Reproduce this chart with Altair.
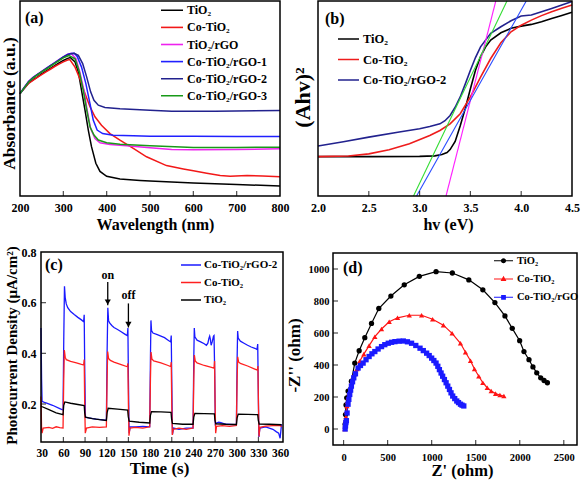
import altair as alt
import pandas as pd

FONT = "Liberation Serif"
W, H = 584, 482

# ---------------- (a) UV-vis absorbance ----------------
a_names = ["TiO₂", "Co-TiO₂", "TiO₂/rGO", "Co-TiO₂/rGO-1", "Co-TiO₂/rGO-2", "Co-TiO₂/rGO-3"]
a_colors = ["#000000", "#f21818", "#ee22ee", "#2020ff", "#22228e", "#189a18"]
a_xlim, a_ylim = [200, 800], [0, 100]

rise_wl = [200, 210, 220, 230, 240, 250, 260, 270, 280, 290, 300, 310]

wl_tio2 = rise_wl + [316, 327, 334.6, 342, 350, 357.6, 365, 375, 384.6, 400, 430.7, 477, 500, 600, 700, 800]
ab_tio2 = [52.5, 55.3, 58.0, 59.6, 61.0, 62.6, 64.0, 65.4, 66.8, 68.2, 69.5, 70.6,
           71.0, 68.7, 63.6, 54.2, 44.0, 33.8, 25.3, 16.8, 12.6, 10.1, 8.7, 8.0, 7.7, 6.7, 5.9, 5.1]

wl_co = rise_wl + [315, 327, 338, 350, 361.5, 373, 388, 407.6, 430.7, 461.5, 492, 538, 577, 600, 631, 662, 685, 724, 760, 800]
ab_co = [52.5, 55.2, 57.8, 59.3, 60.8, 62.2, 63.6, 65.0, 66.4, 67.6, 68.8, 69.7,
         70.0, 66.1, 60.2, 52.6, 45.8, 40.6, 36.3, 32.0, 28.6, 24.4, 20.1, 15.6, 13.9, 13.0, 11.7, 10.5, 10.1, 10.5, 10.3, 9.9]

wl_rgo = rise_wl + [318, 329, 338, 347.6, 355, 363, 373, 384.6, 407.6, 446, 500, 550, 600, 700, 800]
ab_rgo = [52.5, 55.8, 58.8, 60.8, 62.4, 63.9, 65.4, 66.9, 68.4, 69.9, 71.4, 72.7,
          73.2, 70.4, 63.6, 54.2, 44.0, 34.6, 29.5, 27.3, 26.4, 25.8, 24.7, 23.8, 23.7, 23.8, 24.2]

wl_rgo1 = rise_wl + [318, 325, 332, 342, 352, 361.5, 369, 378, 390.7, 415, 461.5, 500, 600, 700, 800]
ab_rgo1 = [52.5, 55.7, 58.7, 60.7, 62.3, 63.8, 65.3, 66.8, 68.3, 69.8, 71.3, 72.6,
           73.1, 73.2, 71.6, 66.1, 57.6, 47.4, 38.9, 33.8, 32.0, 31.2, 30.9, 30.7, 30.6, 30.5, 30.5]

wl_rgo2 = rise_wl + [318, 325, 334.6, 344.6, 353.8, 363, 370.7, 380.7, 396, 430.7, 500, 550, 650, 800]
ab_rgo2 = [52.5, 55.6, 58.6, 60.6, 62.2, 63.7, 65.2, 66.7, 68.2, 69.7, 71.2, 72.5,
           73.0, 73.2, 72.1, 67.9, 61.1, 53.4, 49.1, 46.6, 45.4, 44.7, 44.0, 43.4, 43.4, 43.9]

wl_rgo3 = rise_wl + [313, 327, 337, 346, 354, 361.5, 370.7, 380.7, 400, 430.7, 500, 600, 700, 800]
ab_rgo3 = [52.5, 55.6, 58.5, 60.5, 62.1, 63.6, 65.0, 66.5, 68.0, 69.4, 70.8, 71.8,
           72.0, 70.4, 63.6, 54.2, 44.0, 35.5, 31.3, 28.7, 27.3, 26.6, 25.8, 24.9, 24.9, 25.0]

a_series = [(a_names[0], wl_tio2, ab_tio2), (a_names[1], wl_co, ab_co), (a_names[2], wl_rgo, ab_rgo),
            (a_names[3], wl_rgo1, ab_rgo1), (a_names[4], wl_rgo2, ab_rgo2), (a_names[5], wl_rgo3, ab_rgo3)]

# ---------------- (b) Tauc plot ----------------
b_names = ["TiO₂", "Co-TiO₂", "Co-TiO₂/rGO-2"]
b_colors = ["#000000", "#ee1c1c", "#22228e"]
b_xlim, b_ylim = [2.0, 4.5], [0, 100]

hv_tio2 = [2.0, 2.5, 3.0, 3.15, 3.22, 3.27, 3.3, 3.35, 3.4, 3.45, 3.5, 3.55, 3.6, 3.65, 3.7, 3.8, 3.9, 4.0, 4.1, 4.2, 4.3, 4.4, 4.5]
ah_tio2 = [20.2, 20.2, 20.3, 20.6, 21.3, 22.3, 23.8, 28.0, 36.0, 45.0, 55.0, 64.5, 71.5, 76.5, 80.0, 83.7, 86.0, 87.1, 88.0, 89.4, 91.0, 92.6, 94.2]

hv_co = [2.0, 2.3, 2.5, 2.7, 2.9, 3.1, 3.2, 3.3, 3.4, 3.5, 3.6, 3.7, 3.8, 3.9, 4.0, 4.1, 4.2, 4.3, 4.4, 4.5]
ah_co = [20.2, 20.5, 21.6, 23.7, 26.8, 31.0, 33.6, 37.0, 42.2, 50.8, 61.0, 70.5, 78.6, 84.2, 87.6, 90.2, 92.5, 94.5, 96.3, 97.9]

hv_rgo2 = [2.0, 2.25, 2.5, 2.8, 3.0, 3.1, 3.2, 3.25, 3.3, 3.35, 3.4, 3.45, 3.5, 3.55, 3.6, 3.7, 3.8, 3.9, 4.0, 4.1, 4.2, 4.3, 4.4, 4.5]
ah_rgo2 = [25.6, 27.8, 30.2, 32.8, 34.5, 35.6, 37.0, 38.6, 41.3, 45.5, 50.8, 57.5, 64.5, 71.0, 76.5, 83.4, 86.8, 89.9, 92.3, 92.8, 94.5, 96.2, 98.0, 99.7]

# linear extrapolations of the absorption edges
tan_id = ["m", "m", "g", "g", "b", "b"]
tan_hv = [3.26, 3.75, 2.94, 3.86, 2.97, 4.05]
tan_ah = [0, 100, 0, 100, 0, 100]
tan_colors = {"m": "#ff22ff", "g": "#33dd33", "b": "#2a4dff"}

# ---------------- (c) photocurrent response ----------------
c_names = ["Co-TiO₂/rGO-2", "Co-TiO₂", "TiO₂"]
c_colors = ["#1a1aff", "#ff2020", "#000000"]
c_xlim, c_ylim = [29, 364], [0.05, 0.8]

t_blue = [29, 29.8, 30.5, 35, 45, 55, 59.5, 60.5, 61.5, 62.5, 64, 66, 70, 75, 80, 85, 88, 88.8, 89.5, 90.5,
          95, 105, 115, 119.5, 120.5, 121.5, 122.5, 124, 127, 130, 135, 140, 145, 148.5, 149.3, 150, 151, 152.5,
          160, 170, 179.5, 180.5, 181.2, 182, 184, 190, 195, 200, 205, 208.5, 209.3, 210, 211, 212.5,
          220, 230, 239.5, 240.5, 241.2, 242, 245, 250, 255, 258, 260, 261.5, 262.5, 263.5, 264.5, 266, 267.8, 268.5,
          269.3, 270.3, 272, 275, 278, 285, 299.5, 300.5, 301.2, 302, 305, 310, 315, 320, 325, 328, 329, 329.8,
          330.6, 332, 340, 350, 355, 358, 360, 362]
j_blue = [0.50, 0.30, 0.21, 0.205, 0.195, 0.182, 0.176, 0.45, 0.665, 0.62, 0.595, 0.58, 0.565, 0.553, 0.542, 0.532, 0.525, 0.552, 0.35, 0.148,
          0.145, 0.140, 0.137, 0.135, 0.40, 0.58, 0.53, 0.52, 0.51, 0.502, 0.494, 0.485, 0.476, 0.47, 0.50, 0.30, 0.085, 0.11,
          0.11, 0.112, 0.11, 0.38, 0.53, 0.49, 0.48, 0.474, 0.468, 0.462, 0.452, 0.445, 0.47, 0.30, 0.08, 0.105,
          0.10, 0.105, 0.105, 0.38, 0.50, 0.465, 0.452, 0.445, 0.438, 0.432, 0.44, 0.46, 0.468, 0.455, 0.432, 0.445, 0.468, 0.47,
          0.35, 0.12, 0.125, 0.128, 0.126, 0.12, 0.118, 0.38, 0.488, 0.46, 0.448, 0.44, 0.432, 0.425, 0.42, 0.415, 0.437, 0.25,
          0.07, 0.105, 0.11, 0.10, 0.09, 0.085, 0.065, 0.12]

t_red = [29, 29.8, 30.5, 32, 40, 45, 50, 55, 59.5, 60.5, 61.3, 62.5, 64, 70, 78, 85, 88, 88.8, 89.5, 90.3,
         92, 100, 110, 119.5, 120.5, 121.3, 122.5, 125, 130, 140, 148.5, 149.3, 150, 150.8, 152,
         160, 170, 179.5, 180.5, 181.3, 182.5, 185, 195, 205, 208.5, 209.3, 210, 210.8, 212,
         220, 230, 239.5, 240.5, 241.3, 242.5, 245, 255, 265, 268.5, 269.3, 270, 270.8, 272,
         280, 290, 299.5, 300.5, 301.3, 302.5, 305, 315, 325, 328.5, 329.3, 330, 330.8, 332, 340, 350, 360, 362]
j_red = [0.23, 0.10, 0.085, 0.105, 0.108, 0.104, 0.11, 0.107, 0.105, 0.30, 0.413, 0.385, 0.375, 0.368, 0.362, 0.356, 0.354, 0.375, 0.20, 0.085,
         0.105, 0.11, 0.108, 0.11, 0.30, 0.407, 0.38, 0.372, 0.365, 0.355, 0.347, 0.36, 0.20, 0.075, 0.105,
         0.108, 0.105, 0.11, 0.30, 0.405, 0.378, 0.37, 0.362, 0.352, 0.348, 0.365, 0.20, 0.078, 0.10,
         0.105, 0.10, 0.105, 0.30, 0.393, 0.37, 0.362, 0.352, 0.345, 0.342, 0.37, 0.20, 0.085, 0.112,
         0.115, 0.112, 0.115, 0.30, 0.386, 0.366, 0.36, 0.35, 0.338, 0.334, 0.35, 0.20, 0.072, 0.108, 0.113, 0.115, 0.116, 0.11]

t_black = [29, 30, 40, 50, 59.5, 60.5, 62, 70, 80, 88.8, 89.5, 90.5, 100, 110, 119.5, 120.5, 122, 135, 149, 149.8, 151,
           165, 179.5, 180.5, 182, 195, 209, 209.8, 211, 225, 239.5, 240.5, 242, 255, 269, 269.8, 271,
           285, 299.5, 300.5, 302, 315, 329, 329.8, 331, 345, 362]
j_black = [0.192, 0.19, 0.178, 0.165, 0.158, 0.195, 0.208, 0.203, 0.198, 0.194, 0.165, 0.148, 0.142, 0.138, 0.135, 0.165, 0.183, 0.18, 0.176, 0.15, 0.132,
           0.128, 0.125, 0.155, 0.17, 0.169, 0.167, 0.14, 0.123, 0.12, 0.12, 0.148, 0.163, 0.162, 0.161, 0.135, 0.122,
           0.12, 0.119, 0.145, 0.16, 0.159, 0.158, 0.135, 0.121, 0.12, 0.118]

arrow_t = [121.4, 150.0]
arrow_top = [0.682, 0.597]
arrow_tip = [0.59, 0.502]
arrow_text = ["on", "off"]
arrow_text_j = [0.708, 0.629]

# ---------------- (d) Nyquist plot ----------------
d_names = ["TiO₂", "Co-TiO₂", "Co-TiO₂/rGO"]
d_colors = ["#000000", "#ff1414", "#1a1aff"]
d_shapes = ["circle", "triangle-up", "square"]
d_xlim, d_ylim = [-120, 2650], [-100, 1100]

zr_tio2 = [18, 22, 28, 36, 51, 89, 127, 177, 241, 317, 400, 537, 689, 860, 1050, 1235, 1422, 1581, 1718, 1832,
           1915, 1999, 2048, 2105, 2150, 2193, 2238, 2276, 2314]
zi_tio2 = [30, 90, 150, 195, 237, 299, 412, 489, 571, 660, 753, 831, 901, 954, 983, 975, 932, 870, 790, 707,
           629, 552, 484, 433, 388, 351, 320, 303, 289]

zr_co = [14, 17, 19, 21, 24, 27, 33, 38, 44, 52, 63, 76, 89, 104, 119, 136, 153, 183, 230, 290, 355, 431, 518,
         613, 746, 886, 1011, 1133, 1232, 1327, 1384, 1441, 1486, 1535, 1581, 1631, 1676, 1726, 1775, 1820]
zi_co = [0, 15, 30, 45, 60, 75, 110, 144, 170, 196, 225, 260, 290, 315, 340, 360, 375, 423, 468, 521, 577, 625, 670,
         695, 711, 711, 686, 649, 598, 536, 480, 427, 375, 330, 289, 258, 237, 221, 212, 206]

zr_rgo = [18, 22, 26, 32, 40, 51, 60, 70, 80, 89, 102, 116, 135, 165, 192, 222, 255, 290, 322, 355, 392, 431, 468,
          507, 545, 583, 630, 678, 725, 772, 820, 868, 905, 943, 972, 1000, 1025, 1050, 1070, 1088, 1107, 1125,
          1145, 1164, 1183, 1202, 1220, 1239, 1262, 1285, 1305, 1327, 1345, 1365]
zi_rgo = [0, 20, 40, 52, 100, 155, 185, 216, 243, 268, 295, 320, 345, 381, 397, 412, 433, 453, 470, 484, 500, 515, 527,
          536, 542, 546, 549, 550, 545, 536, 522, 505, 490, 474, 459, 443, 428, 412, 392, 371, 350, 330,
          309, 289, 268, 247, 226, 206, 190, 175, 165, 155, 149, 144]

# legend glyphs: a short line with the series marker in the middle
d_legend_paths = [
    "M-1,-0.06H1V0.06H-1Z M0.27,0A0.27,0.27,0,1,1,-0.27,0A0.27,0.27,0,1,1,0.27,0Z",
    "M-1,-0.06H1V0.06H-1Z M0,-0.33L0.31,0.22L-0.31,0.22Z",
    "M-1,-0.06H1V0.06H-1Z M-0.25,-0.25H0.25V0.25H-0.25Z",
]

# ---------------- panel placement on the page (pixels) ----------------
A_X, A_Y = [20, 280], [196, 1]
B_X, B_Y = [318, 572], [196, 1]
C_X, C_Y = [41, 283], [442, 252]
D_X, D_Y = [333, 577], [445, 253]


def long_frame(series, xname, yname):
    rows = []
    for name, xs, ys in series:
        for i, (xv, yv) in enumerate(zip(xs, ys)):
            rows.append({"s": name, xname: xv, yname: yv, "i": i})
    return pd.DataFrame(rows)


def x_axis(title, values, label_size, label_pad, title_x, title_y, y_px, fmt=None, title_size=16.5):
    opts = dict(orient="bottom", title=title, values=values, labelFontSize=label_size,
                labelPadding=label_pad, labelBaseline="middle", labelOverlap=False,
                offset=y_px - H, titleX=title_x, titleY=title_y, titleBaseline="middle",
                titleAlign="center", titleFontSize=title_size, domain=False)
    if fmt:
        opts["format"] = fmt
    return alt.Axis(**opts)


def y_axis(title, x_px, title_x, title_y, title_size, values=None, label_size=12, label_pad=4, fmt=None):
    opts = dict(orient="left", title=title, offset=-x_px, titleX=title_x, titleY=title_y,
                titleBaseline="middle", titleAlign="center", titleAngle=270,
                titleFontSize=title_size, domain=False)
    if values is None:
        opts["labels"] = False
    else:
        opts.update(values=values, labelFontSize=label_size, labelPadding=label_pad, labelOverlap=False)
        if fmt:
            opts["format"] = fmt
    return alt.Axis(**opts)


def frame(xf, yf, xlim, ylim):
    df = pd.DataFrame({xf: [xlim[0]], xf + "2": [xlim[1]], yf: [ylim[0]], yf + "2": [ylim[1]]})
    return alt.Chart(df).mark_rect(fillOpacity=0, stroke="black", strokeWidth=1.5).encode(
        x=f"{xf}:Q", x2=f"{xf}2:Q", y=f"{yf}:Q", y2=f"{yf}2:Q")


def bottom_ticks(values, field, y_px):
    return alt.Chart(pd.DataFrame({field: values})).mark_tick(
        color="black", thickness=1.2, size=5, orient="vertical"
    ).encode(x=f"{field}:Q", y=alt.value(y_px - 2.5))


def left_ticks(values, field, x_px):
    return alt.Chart(pd.DataFrame({field: values})).mark_tick(
        color="black", thickness=1.2, size=5, orient="horizontal"
    ).encode(y=f"{field}:Q", x=alt.value(x_px + 2.5))


def panel_tag(label, px, py):
    return alt.Chart(pd.DataFrame({"tag": [label]})).mark_text(
        align="left", baseline="middle", font=FONT, fontWeight="bold", fontSize=16, color="black"
    ).encode(text="tag:N", x=alt.value(px), y=alt.value(py))


def line_legend(x, y, size, font_size, row_pad, label_off=3, clip_h=13):
    return alt.Legend(
        orient="none", legendX=x, legendY=y, title=None, symbolType="stroke",
        symbolSize=size, symbolStrokeWidth=1.6, labelFont=FONT, labelFontWeight="bold",
        labelFontSize=font_size, labelColor="black", labelOffset=label_off, rowPadding=row_pad,
        clipHeight=clip_h, padding=0,
    )


# ---- panel (a)
a_df = long_frame(a_series, "wl", "ab")
a_lines = alt.Chart(a_df).mark_line(strokeWidth=1.5).encode(
    x=alt.X("wl:Q", scale=alt.Scale(domain=a_xlim, range=A_X, nice=False, zero=False),
            axis=x_axis("Wavelength (nm)", [200, 300, 400, 500, 600, 700, 800], 12, 11.5, 155, 28.5, A_Y[0],
                        title_size=16)),
    y=alt.Y("ab:Q", scale=alt.Scale(domain=a_ylim, range=A_Y, nice=False),
            axis=y_axis("Absorbance (a.u.)", A_X[0], -10.5, 103, 17.5)),
    color=alt.Color("s:N", scale=alt.Scale(domain=a_names, range=a_colors),
                    legend=line_legend(160, 3.8, 484, 12, 4.1)),
    order="i:Q",
)
panel_a = alt.layer(
    a_lines, bottom_ticks([300, 400, 500, 600, 700], "wl", A_Y[0]),
    frame("wl", "ab", a_xlim, a_ylim), panel_tag("(a)", 25, 17.5)
)

# ---- panel (b)
b_series = [(b_names[0], hv_tio2, ah_tio2), (b_names[1], hv_co, ah_co), (b_names[2], hv_rgo2, ah_rgo2)]
b_df = long_frame(b_series, "hv", "ah")
b_lines = alt.Chart(b_df).mark_line(strokeWidth=1.6).encode(
    x=alt.X("hv:Q", scale=alt.Scale(domain=b_xlim, range=B_X, nice=False, zero=False),
            axis=x_axis("hv (eV)", [2.0, 2.5, 3.0, 3.5, 4.0, 4.5], 12, 11.5, 448, 28.5, B_Y[0], ".1f",
                        title_size=16)),
    y=alt.Y("ah:Q", scale=alt.Scale(domain=b_ylim, range=B_Y, nice=False),
            axis=y_axis("(Ahv)²", B_X[0], -16, 97, 22)),
    color=alt.Color("s:N", scale=alt.Scale(domain=b_names, range=b_colors),
                    legend=line_legend(337, 32.5, 441, 12.5, 7.5)),
    order="i:Q",
)
tan_df = pd.DataFrame({"id": tan_id, "hv": tan_hv, "ah": tan_ah})
tan_layers = [
    alt.Chart(tan_df).transform_filter(alt.datum.id == key).mark_line(
        color=col, strokeWidth=1.1).encode(x="hv:Q", y="ah:Q")
    for key, col in tan_colors.items()
]
panel_b = alt.layer(
    b_lines, *tan_layers, bottom_ticks([2.5, 3.0, 3.5, 4.0], "hv", B_Y[0]),
    frame("hv", "ah", b_xlim, b_ylim), panel_tag("(b)", 325, 19)
)

# ---- panel (c)
c_series = [(c_names[0], t_blue, j_blue), (c_names[1], t_red, j_red), (c_names[2], t_black, j_black)]
c_df = long_frame(c_series, "t", "j")
c_lines = alt.Chart(c_df).mark_line(strokeWidth=1.3).encode(
    x=alt.X("t:Q", scale=alt.Scale(domain=c_xlim, range=C_X, nice=False, zero=False),
            axis=x_axis("Time (s)", list(range(30, 361, 30)), 11.5, 11, 159, 26, C_Y[0], title_size=17)),
    y=alt.Y("j:Q", scale=alt.Scale(domain=c_ylim, range=C_Y, nice=False, zero=False),
            axis=y_axis("Photocurrent Density (μA/cm²)", C_X[0], -30, 345, 15,
                        values=[0.2, 0.4, 0.6, 0.8], label_size=12, label_pad=5, fmt=".1f")),
    color=alt.Color("s:N", scale=alt.Scale(domain=c_names, range=c_colors),
                    legend=line_legend(180, 258.5, 400, 11, 4.5, label_off=2)),
    order="i:Q",
)
arrow_df = pd.DataFrame({"t": arrow_t, "top": arrow_top, "tip": arrow_tip,
                         "txt": arrow_text, "tj": arrow_text_j})
arrow_shaft = alt.Chart(arrow_df).mark_rule(color="black", strokeWidth=1.3).encode(
    x="t:Q", y="top:Q", y2="tip:Q")
arrow_head = alt.Chart(arrow_df).mark_point(
    shape="triangle-down", filled=True, color="black", size=38, yOffset=-3, opacity=1
).encode(x="t:Q", y="tip:Q")
arrow_label = alt.Chart(arrow_df).mark_text(
    font=FONT, fontWeight="bold", fontSize=12, color="black", baseline="middle"
).encode(x="t:Q", y="tj:Q", text="txt:N")
panel_c = alt.layer(
    c_lines, arrow_shaft, arrow_head, arrow_label,
    bottom_ticks(list(range(60, 360, 30)), "t", C_Y[0]), left_ticks([0.2, 0.4, 0.6], "j", C_X[0]),
    frame("t", "j", c_xlim, c_ylim), panel_tag("(c)", 45, 265)
)

# ---- panel (d)
d_series = [(d_names[0], zr_tio2, zi_tio2), (d_names[1], zr_co, zi_co), (d_names[2], zr_rgo, zi_rgo)]
d_df = long_frame(d_series, "zr", "zi")
d_color = alt.Scale(domain=d_names, range=d_colors)
d_lines = alt.Chart(d_df).mark_line(strokeWidth=1.2).encode(
    x=alt.X("zr:Q", scale=alt.Scale(domain=d_xlim, range=D_X, nice=False, zero=False),
            axis=x_axis("Z' (ohm)", [0, 500, 1000, 1500, 2000, 2500], 10.5, 12, 462, 25.5, D_Y[0], "d")),
    y=alt.Y("zi:Q", scale=alt.Scale(domain=d_ylim, range=D_Y, nice=False, zero=False),
            axis=y_axis("-Z'' (ohm)", D_X[0], -38.5, 355, 17,
                        values=[0, 200, 400, 600, 800, 1000], label_size=10.5, label_pad=4, fmt="d")),
    color=alt.Color("s:N", scale=d_color, legend=None),
    order="i:Q",
)
d_points = alt.Chart(d_df).mark_point(filled=True, size=28, opacity=1).encode(
    x="zr:Q", y="zi:Q",
    color=alt.Color("s:N", scale=d_color, legend=None),
    shape=alt.Shape("s:N", scale=alt.Scale(domain=d_names, range=d_shapes), legend=None),
)
d_legend = alt.Legend(
    orient="none", legendX=493, legendY=253.7, title=None, symbolSize=361,
    labelFont=FONT, labelFontWeight="bold", labelFontSize=10.5, labelColor="black",
    labelOffset=3, rowPadding=4.3, clipHeight=14, padding=0)
d_key = alt.Chart(d_df).transform_filter("false").mark_point(filled=True, opacity=1, strokeWidth=0).encode(
    x="zr:Q", y="zi:Q",
    color=alt.Color("s:N", scale=d_color, legend=d_legend),
    shape=alt.Shape("s:N", scale=alt.Scale(domain=d_names, range=d_legend_paths), legend=d_legend),
)
panel_d = alt.layer(
    d_lines, d_points, d_key,
    bottom_ticks([0, 500, 1000, 1500, 2000, 2500], "zr", D_Y[0]),
    left_ticks([0, 200, 400, 600, 800, 1000], "zi", D_X[0]),
    frame("zr", "zi", d_xlim, d_ylim), panel_tag("(d)", 343, 268)
).resolve_scale(color="independent", shape="independent")

chart = alt.layer(panel_a, panel_b, panel_c, panel_d).resolve_scale(
    x="independent", y="independent", color="independent", shape="independent"
).properties(
    width=W, height=H, padding=0, background="white",
    autosize=alt.AutoSizeParams(type="none"),
).configure_view(stroke="transparent").configure_axis(
    grid=False, ticks=False, tickSize=0,
    labelFont=FONT, labelFontWeight="bold", labelColor="black",
    titleFont=FONT, titleFontWeight="bold", titleColor="black", labelFlush=False,
)

chart.save("out.html", embed_options={"renderer": "svg", "actions": False})
